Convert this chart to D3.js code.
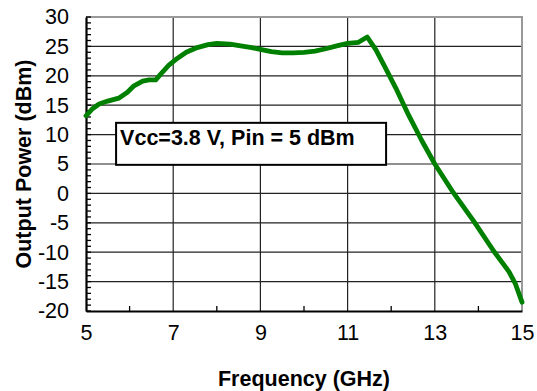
<!DOCTYPE html>
<html>
<head>
<meta charset="utf-8">
<script src="https://cdn.jsdelivr.net/npm/d3@7"></script>
<style>
    body { margin: 0; background: #fff; }
    svg { display: block; font-family: "Liberation Sans", Arial, sans-serif; }
</style>
</head>
<body>
<svg id="chart" width="537" height="391"></svg>
<script>
// Daten
const freq = [5.0, 5.15, 5.3, 5.5, 5.75, 5.95, 6.1, 6.3, 6.45, 6.6, 6.75, 6.9, 7.1, 7.3, 7.55,
    7.8, 8.0, 8.3, 8.55, 8.8, 9.0, 9.25, 9.5, 9.75, 10.0, 10.25, 10.5, 10.75, 11.0, 11.25,
    11.45, 11.65, 11.87, 12.1, 12.4, 12.7, 13.0, 13.4, 13.9, 14.35, 14.7, 14.85, 15.0];
const power = [13.2, 14.4, 15.2, 15.7, 16.2, 17.2, 18.3, 19.1, 19.3, 19.3, 20.6, 21.8, 23.0, 24.0, 24.8,
    25.3, 25.5, 25.4, 25.1, 24.8, 24.5, 24.1, 23.9, 23.9, 24.0, 24.2, 24.6, 25.1, 25.5, 25.7,
    26.6, 24.4, 21.3, 18.0, 13.3, 9.0, 5.0, 0.4, -4.8, -9.8, -13.3, -15.4, -18.5];
const xTicks = [5, 7, 9, 11, 13, 15];
const xMinor = [6, 8, 10, 12, 14];
const yTicks = [-20, -15, -10, -5, 0, 5, 10, 15, 20, 25, 30];
const annotation = 'Vcc=3.8 V, Pin = 5 dBm';
const xTitle = 'Frequency (GHz)';
const yTitle = 'Output Power (dBm)';

const svg = d3.select('#chart');
const margin = { top: 17, right: 15, bottom: 80, left: 86 };
const width = 537 - margin.left - margin.right;
const height = 391 - margin.top - margin.bottom;
const fontSize = '21.5px';

const g = svg.append('g')
    .attr('transform', `translate(${margin.left},${margin.top})`);

const xScale = d3.scaleLinear().domain([5, 15]).range([0, width]);
const yScale = d3.scaleLinear().domain([-20, 30]).range([height, 0]);

// Gitter
g.append('g')
    .selectAll('line')
    .data(xTicks.slice(1, -1))
    .join('line')
    .attr('x1', d => xScale(d)).attr('x2', d => xScale(d))
    .attr('y1', 0).attr('y2', height)
    .style('stroke', '#222').style('stroke-width', 1.2);

g.append('g')
    .selectAll('line')
    .data(yTicks.slice(1, -1))
    .join('line')
    .attr('x1', 0).attr('x2', width)
    .attr('y1', d => yScale(d)).attr('y2', d => yScale(d))
    .style('stroke', '#222').style('stroke-width', 1.2);

// Rahmen oben / rechts grau
g.append('path')
    .attr('d', `M0,0H${width}V${height}`)
    .style('fill', 'none').style('stroke', '#999').style('stroke-width', 2);

// Kleine Ticks
const yMinor = d3.range(-20, 31, 1);
g.append('g')
    .selectAll('line')
    .data(yMinor)
    .join('line')
    .attr('x1', 0).attr('x2', 5)
    .attr('y1', d => yScale(d)).attr('y2', d => yScale(d))
    .style('stroke', '#000').style('stroke-width', 1.3);

g.append('g')
    .selectAll('line')
    .data(xMinor)
    .join('line')
    .attr('x1', d => xScale(d)).attr('x2', d => xScale(d))
    .attr('y1', height).attr('y2', height - 5)
    .style('stroke', '#000').style('stroke-width', 1.3);

// Achsen (Bindestrich statt Minuszeichen wie im Original)
const xAxis = d3.axisBottom(xScale).tickValues(xTicks).tickSize(0).tickPadding(14)
    .tickFormat(d => String(d));
const yAxis = d3.axisLeft(yScale).tickValues(yTicks).tickSize(0).tickPadding(17)
    .tickFormat(d => String(d));

const gx = g.append('g')
    .attr('transform', `translate(0,${height})`)
    .call(xAxis);
const gy = g.append('g').call(yAxis);

[gx, gy].forEach(a => {
    a.select('.domain').style('stroke', '#000').style('stroke-width', 2.2);
    a.selectAll('text')
        .style('font-family', '"Liberation Sans", Arial, sans-serif')
        .style('font-size', fontSize)
        .style('fill', '#000');
});

// Kurve
const line = d3.line()
    .x((d, i) => xScale(freq[i]))
    .y(d => yScale(d));

g.append('path')
    .datum(power)
    .attr('d', line)
    .style('fill', 'none')
    .style('stroke', '#008000')
    .style('stroke-width', 4.8)
    .style('stroke-linejoin', 'round')
    .style('stroke-linecap', 'round');

// Beschriftungsbox
const box = g.append('g')
    .attr('transform', `translate(${xScale(5.69)},${yScale(12)})`);
box.append('rect')
    .attr('width', 270).attr('height', 42)
    .style('fill', '#fff').style('stroke', '#000').style('stroke-width', 2);
box.append('text')
    .attr('x', 4).attr('y', 22)
    .style('font-size', fontSize).style('font-weight', 'bold')
    .text(annotation);

// Achsentitel
svg.append('text')
    .attr('x', margin.left + width / 2)
    .attr('y', 386)
    .attr('text-anchor', 'middle')
    .style('font-size', fontSize).style('font-weight', 'bold')
    .text(xTitle);

svg.append('text')
    .attr('transform', `translate(31,${margin.top + height / 2}) rotate(-90)`)
    .attr('text-anchor', 'middle')
    .style('font-size', fontSize).style('font-weight', 'bold')
    .text(yTitle);
</script>
</body>
</html>
